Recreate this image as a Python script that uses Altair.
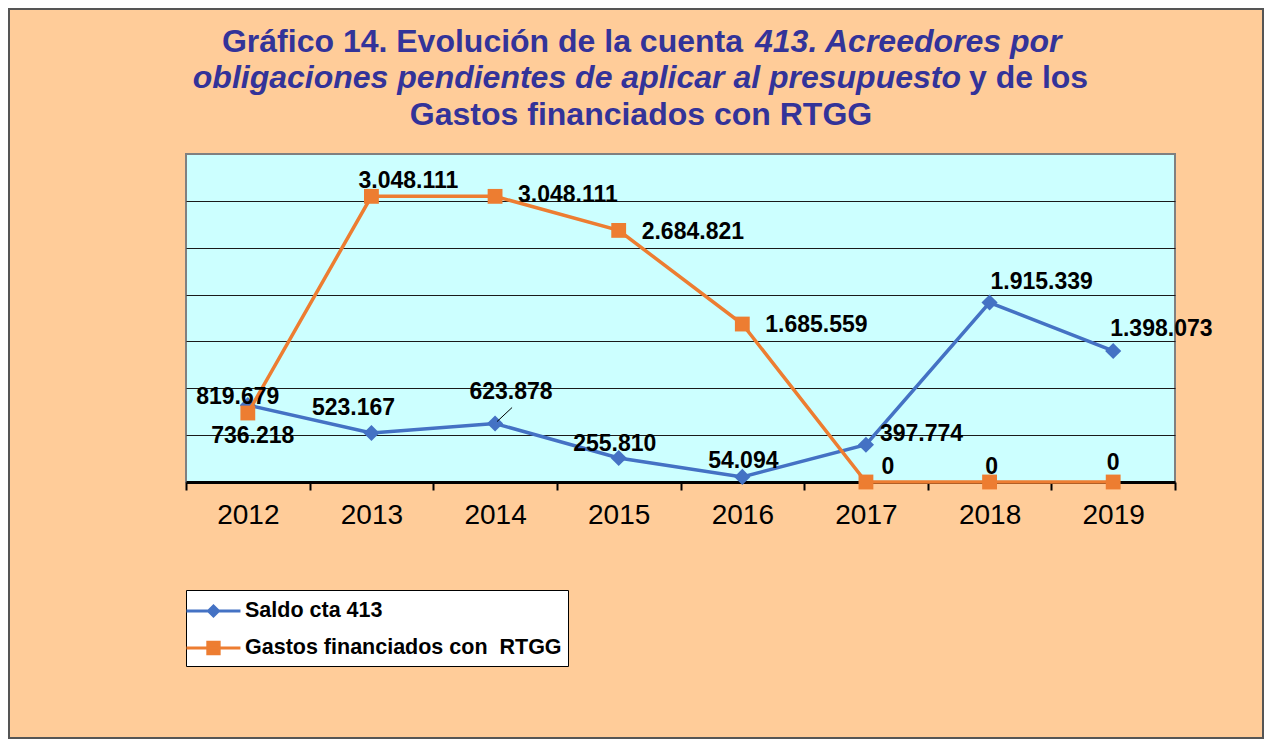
import altair as alt
import pandas as pd

# ---------------- data ----------------
YEARS = ["2012", "2013", "2014", "2015", "2016", "2017", "2018", "2019"]
SERIES = ["Saldo cta 413", "Gastos financiados con \u00a0RTGG"]
SALDO = [819679, 523167, 623878, 255810, 54094, 397774, 1915339, 1398073]
GASTOS = [736218, 3048111, 3048111, 2684821, 1685559, 0, 0, 0]
GRID_VALUES = [500000, 1000000, 1500000, 2000000, 2500000, 3000000]
Y_MAX = 3500000

TITLE_L1_NORMAL = "Gráfico 14. Evolución de la cuenta"
TITLE_L1_ITALIC = "413. Acreedores por"
TITLE_L2_ITALIC = "obligaciones pendientes de aplicar al presupuesto"
TITLE_L2_NORMAL = "y de los"
TITLE_L3 = "Gastos financiados con RTGG"

# ---------------- styles ----------------
COLORS = ["#4472C4", "#ED7D31"]
FONT = "Liberation Sans, Arial, Helvetica, sans-serif"
TITLE_COLOR = "#333399"
W, H = 989, 328
PAD = {"left": 178, "top": 146, "right": 89, "bottom": 257}

# label placement per (series index, year): align, dx, dy
LABEL_STYLE = {
    (0, "2012"): ("center", -10, -1),
    (0, "2013"): ("center", -18, -18),
    (0, "2014"): ("center", 16, -25),
    (0, "2015"): ("center", -4, -7),
    (0, "2016"): ("center", 1, -9),
    (0, "2017"): ("left", 14, -4),
    (0, "2018"): ("left", 1, -14),
    (0, "2019"): ("left", -3, -15),
    (1, "2012"): ("center", 5, 30),
    (1, "2013"): ("center", 37, -8),
    (1, "2014"): ("left", 23, 6),
    (1, "2015"): ("left", 23, 9),
    (1, "2016"): ("left", 23, 8),
    (1, "2017"): ("center", 22, -8),
    (1, "2018"): ("center", 2, -8),
    (1, "2019"): ("center", 0, -12),
}

rows = []
for i, yr in enumerate(YEARS):
    for s, vals in enumerate([SALDO, GASTOS]):
        v = vals[i]
        rows.append({"year": yr, "serie": SERIES[s], "value": v,
                     "label": f"{v:,}".replace(",", ".")})
df = pd.DataFrame(rows)

x_enc = alt.X(
    "year:N",
    sort=YEARS,
    scale=alt.Scale(type="band", domain=YEARS, paddingInner=0, paddingOuter=0),
    axis=alt.Axis(
        title=None, grid=False, domainColor="black", domainWidth=3,
        tickColor="black", tickWidth=2, tickSize=8, tickBand="extent",
        labelFont=FONT, labelFontSize=28, labelColor="black",
        labelPadding=11, labelAngle=0,
    ),
)
y_enc = alt.Y(
    "value:Q",
    scale=alt.Scale(domain=[0, Y_MAX], nice=False, zero=True),
    axis=alt.Axis(
        title=None, labels=False, ticks=False, domain=False, grid=True,
        values=GRID_VALUES, gridColor="#1a1a1a", gridWidth=1,
    ),
)
color_enc = alt.Color("serie:N", scale=alt.Scale(domain=SERIES, range=COLORS), legend=None)

base = alt.Chart(df)

layers = []

# outer frame of the chart
frame = alt.Chart(pd.DataFrame({"k": [0]})).mark_rect(
    fillOpacity=0, stroke="#555555", strokeWidth=2
).encode(
    x=alt.value(-PAD["left"] + 1), x2=alt.value(W + PAD["right"] - 1),
    y=alt.value(-PAD["top"] + 1), y2=alt.value(H + PAD["bottom"] - 1),
)
layers.append(frame)

# legend (built from its own shape/fill/stroke scales, marks invisible)
PATH_D = "M-1.52,0L2.48,0M0.11,0L0.48,-0.37L0.85,0L0.48,0.37Z"
PATH_S = "M-1.52,0L2.48,0M0.06,-0.42L0.9,-0.42L0.9,0.42L0.06,0.42Z"
LEG = alt.Legend(
    title=None, orient="none", legendX=0, legendY=436,
    strokeColor="#000000", fillColor="#FFFFFF", padding=6,
    labelFont=FONT, labelFontSize=21.5, labelFontWeight="bold", labelColor="black",
    labelLimit=600, labelOffset=23, rowPadding=11,
    symbolSize=729, symbolStrokeWidth=3, symbolOpacity=1,
)
legend_layer = base.mark_point(filled=True, opacity=0).encode(
    x=x_enc, y=y_enc,
    shape=alt.Shape("serie:N", scale=alt.Scale(domain=SERIES, range=[PATH_D, PATH_S]), legend=LEG),
    fill=alt.Fill("serie:N", scale=alt.Scale(domain=SERIES, range=COLORS), legend=LEG),
    stroke=alt.Stroke("serie:N", scale=alt.Scale(domain=SERIES, range=COLORS), legend=LEG),
)
layers.append(legend_layer)

shapes = ["diamond", "square"]
sizes = [260, 220]
for s, name in enumerate(SERIES):
    sub = base.transform_filter(alt.datum.serie == name)
    layers.append(sub.mark_line(strokeWidth=3.5).encode(x=x_enc, y=y_enc, color=color_enc))
    layers.append(
        sub.mark_point(filled=True, shape=shapes[s], size=sizes[s], opacity=1, strokeWidth=0)
        .encode(x=x_enc, y=y_enc, color=color_enc)
    )

# leader line for the 2014 "Saldo" label
leader = base.transform_filter(
    (alt.datum.serie == SERIES[0]) & (alt.datum.year == "2014")
).mark_rule(
    color="black", strokeWidth=1, xOffset=2, yOffset=-2, x2Offset=17, y2Offset=-16
).encode(x=x_enc, y=y_enc, x2="year:N", y2="value:Q")
layers.append(leader)

# data labels
for (s, yr), (align, dx, dy) in LABEL_STYLE.items():
    sub = base.transform_filter(
        (alt.datum.serie == SERIES[s]) & (alt.datum.year == yr)
    )
    layers.append(
        sub.mark_text(
            align=align, baseline="alphabetic", dx=dx, dy=dy,
            font=FONT, fontSize=23, fontWeight="bold", color="black",
        ).encode(x=x_enc, y=y_enc, text="label:N")
    )

# title (mixed normal / italic pieces)
def title_piece(text, x, y, align, italic):
    kw = dict(align=align, baseline="alphabetic", font=FONT, fontSize=32,
              fontWeight="bold", color=TITLE_COLOR)
    if italic:
        kw["fontStyle"] = "italic"
    return alt.Chart(pd.DataFrame({"t": [text]})).mark_text(**kw).encode(
        text="t:N", x=alt.value(x), y=alt.value(y)
    )

layers.append(title_piece(TITLE_L1_NORMAL, 557, -102, "right", False))
layers.append(title_piece(TITLE_L1_ITALIC, 569, -102, "left", True))
layers.append(title_piece(TITLE_L2_ITALIC, 775, -66, "right", True))
layers.append(title_piece(TITLE_L2_NORMAL, 783, -66, "left", False))
layers.append(title_piece(TITLE_L3, 455, -29, "center", False))

chart = alt.layer(*layers).properties(
    width=W, height=H,
    autosize=alt.AutoSizeParams(type="none"),
    padding=PAD,
    background="#FFCC99",
).configure_view(
    fill="#CCFFFF", stroke="#808080", strokeWidth=2
)

chart.save("out.html", embed_options={"renderer": "svg", "actions": False})
